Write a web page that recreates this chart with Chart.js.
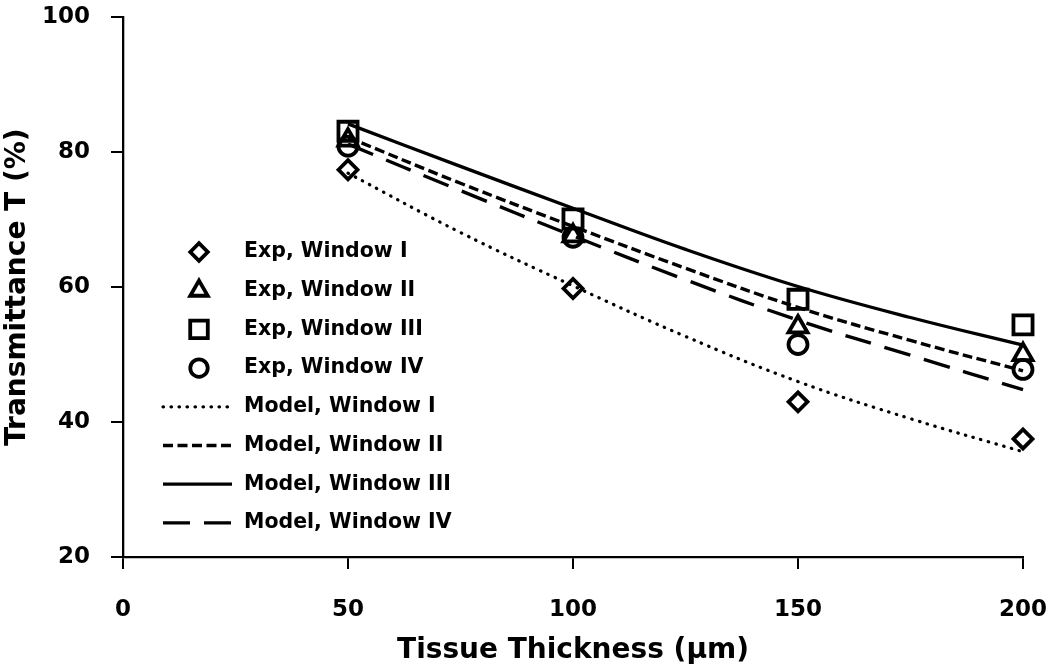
<!DOCTYPE html>
<html>
<head>
<meta charset="utf-8">
<title>Transmittance vs Tissue Thickness</title>
<script src="https://cdn.jsdelivr.net/npm/chart.js@4.4.1/dist/chart.umd.min.js"></script>
<style>
  html, body { margin: 0; padding: 0; background: #fff; }
  .chart-wrap { position: relative; width: 1050px; height: 669px; }
</style>
</head>
<body>
<div class="chart-wrap">
  <canvas id="transChart"></canvas>
</div>
<script>
  // ============ data ============
  const expThickness = [50, 100, 150, 200];
  const expWindow1 = [77.4, 59.8, 43.0, 37.5];
  const expWindow2 = [81.8, 67.6, 54.1, 50.0];
  const expWindow3 = [83.1, 70.1, 58.2, 54.4];
  const expWindow4 = [80.9, 67.4, 51.5, 47.8];

  const modelThickness = [50, 75, 100, 125, 150, 175, 200];
  const modelWindow1 = [76.9, 68.1, 60.2, 52.7, 46.0, 40.5, 35.6];
  const modelWindow2 = [82.2, 75.4, 69.0, 62.8, 57.0, 52.1, 47.6];
  const modelWindow3 = [84.2, 77.9, 71.7, 65.6, 60.1, 55.5, 51.4];
  const modelWindow4 = [81.2, 74.3, 67.6, 61.1, 55.1, 49.9, 44.8];

  const xTicks = [0, 50, 100, 150, 200];
  const yTicks = [20, 40, 60, 80, 100];

  const FONT = '"DejaVu Sans", "Liberation Sans", sans-serif';

  function toPoints(xs, ys) {
    return xs.map(function (x, i) { return { x: x, y: ys[i] }; });
  }

  function expSet(label, ys, style, radius) {
    return {
      label: label,
      data: toPoints(expThickness, ys),
      showLine: false,
      clip: false,
      pointStyle: style,
      pointRadius: radius,
      pointHoverRadius: radius,
      pointBorderWidth: 3.8,
      pointBorderColor: '#000',
      pointBackgroundColor: 'rgba(0,0,0,0)'
    };
  }

  function modelSet(label, ys, dash, cap, width) {
    return {
      label: label,
      data: toPoints(modelThickness, ys),
      borderColor: '#000',
      borderWidth: width,
      borderDash: dash,
      borderCapStyle: cap,
      pointRadius: 0,
      pointHoverRadius: 0,
      fill: false,
      clip: false,
      tension: 0.4
    };
  }

  // ============ legend drawn inside the plot area ============
  const insideLegend = {
    id: 'insideLegend',
    afterDraw: function (chart) {
      const ctx = chart.ctx;
      const top = 252, step = 38.7;
      ctx.save();
      chart.data.datasets.forEach(function (ds, i) {
        const y = top + i * step;
        ctx.strokeStyle = '#000';
        if (ds.showLine === false) {
          ctx.fillStyle = 'rgba(0,0,0,0)';
          ctx.lineWidth = ds.pointBorderWidth;
          ctx.setLineDash([]);
          Chart.helpers.drawPoint(ctx, {
            pointStyle: ds.pointStyle,
            radius: ds.pointRadius * 0.92,
            borderWidth: ds.pointBorderWidth,
            rotation: 0
          }, 199, y);
        } else {
          ctx.lineWidth = ds.borderWidth;
          ctx.lineCap = ds.borderCapStyle || 'butt';
          ctx.setLineDash(ds.borderDash || []);
          ctx.beginPath();
          ctx.moveTo(163, y);
          ctx.lineTo(232, y);
          ctx.stroke();
          ctx.setLineDash([]);
          ctx.lineCap = 'butt';
        }
        ctx.fillStyle = '#000';
        ctx.font = 'bold 20.5px ' + FONT;
        ctx.textAlign = 'left';
        ctx.textBaseline = 'middle';
        ctx.fillText(ds.label, 244, y);
      });
      ctx.restore();
    }
  };

  function axisStyle(ticks, min, max, title, padding) {
    return {
      type: 'linear',
      min: min,
      max: max,
      afterBuildTicks: function (scale) {
        scale.ticks = ticks.map(function (v) { return { value: v }; });
      },
      grid: {
        display: true,
        drawOnChartArea: false,
        drawTicks: true,
        tickLength: 12,
        color: '#000',
        lineWidth: 2
      },
      border: { display: true, color: '#000', width: 2.3 },
      ticks: {
        color: '#000',
        padding: padding,
        font: { family: FONT, size: 23, weight: 'bold', lineHeight: 1 }
      },
      title: {
        display: true,
        text: title,
        color: '#000',
        padding: { top: 1, bottom: 1 },
        font: { family: FONT, size: 28, weight: 'bold', lineHeight: 1.2 }
      }
    };
  }

  function renderChart() {
    const canvas = document.getElementById('transChart');
    if (!canvas || typeof Chart === 'undefined') return;

    // fixed axis sizes so the plot area sits where it does in the figure
    const xScale = axisStyle(xTicks, 0, 200, 'Tissue Thickness (\u00b5m)', 30);
    xScale.afterFit = function (s) {
      s.height = 112;
      s.paddingLeft = 0;
      s.paddingRight = 0;
    };
    const yScale = axisStyle(yTicks, 20, 100, 'Transmittance T (%)', 21);
    yScale.afterFit = function (s) {
      s.width = 123;
      s.paddingTop = 0;
      s.paddingBottom = 0;
    };

    new Chart(canvas.getContext('2d'), {
      type: 'line',
      data: {
        datasets: [
          expSet('Exp, Window I', expWindow1, 'rectRot', 9.5),
          expSet('Exp, Window II', expWindow2, 'triangle', 11),
          expSet('Exp, Window III', expWindow3, 'rect', 13.5),
          expSet('Exp, Window IV', expWindow4, 'circle', 9.5),
          modelSet('Model, Window I', modelWindow1, [0.5, 7.5], 'round', 3.2),
          modelSet('Model, Window II', modelWindow2, [10, 4.5], 'butt', 3.4),
          modelSet('Model, Window III', modelWindow3, [], 'butt', 3.3),
          modelSet('Model, Window IV', modelWindow4, [27, 14], 'butt', 3.4)
        ]
      },
      options: {
        responsive: true,
        maintainAspectRatio: false,
        animation: false,
        layout: { padding: { left: 0, right: 27, top: 12, bottom: 0 } },
        plugins: {
          legend: { display: false },
          tooltip: { enabled: false }
        },
        scales: { x: xScale, y: yScale }
      },
      plugins: [insideLegend]
    });
  }

  renderChart();
</script>
</body>
</html>
